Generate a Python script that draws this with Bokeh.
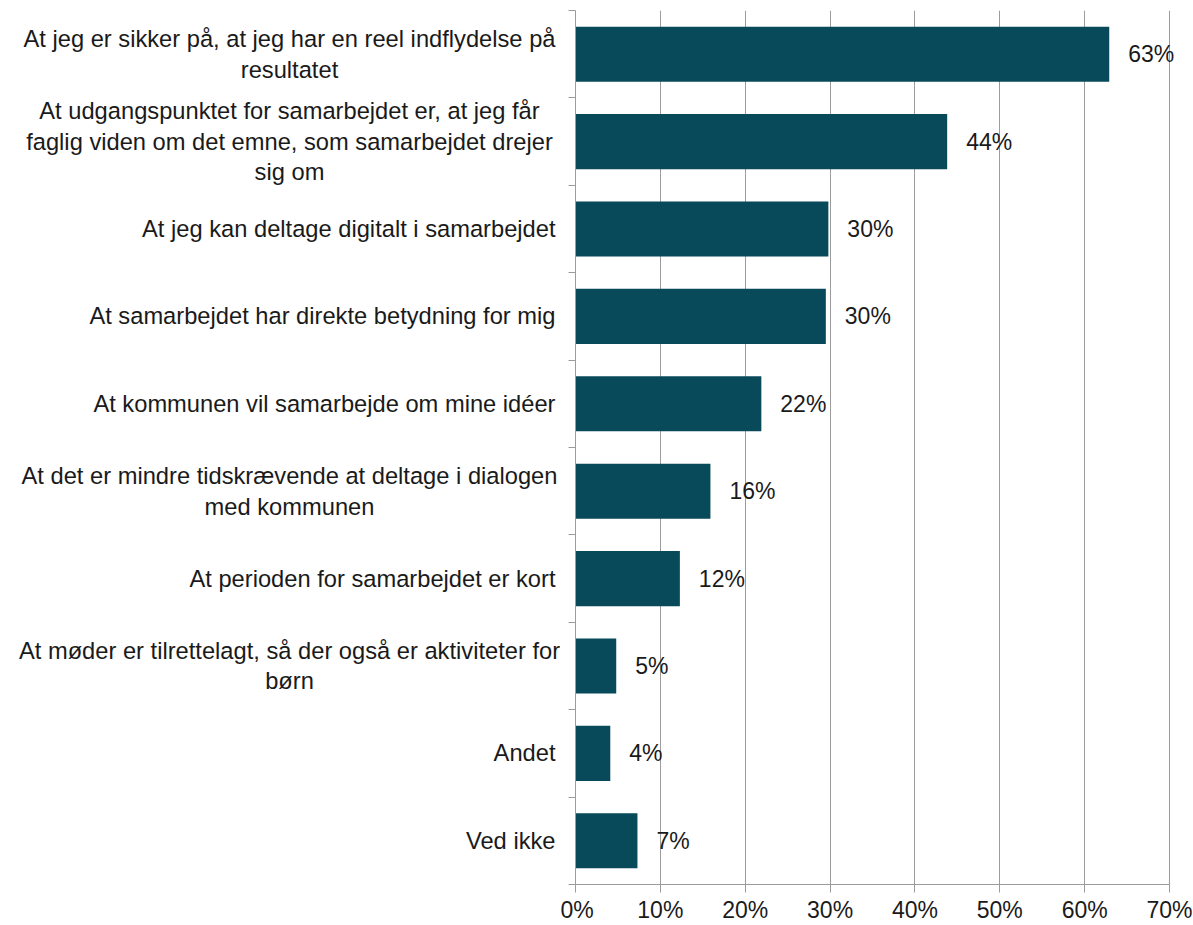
from bokeh.plotting import figure
from bokeh.layouts import row
from bokeh.models import (ColumnDataSource, Range1d, FixedTicker, PrintfTickFormatter,
                          LabelSet)
from bokeh.core.properties import value
from bokeh.embed import file_html
from bokeh.resources import INLINE

categories = [
    "At jeg er sikker på, at jeg har en reel indflydelse på\nresultatet",
    "At udgangspunktet for samarbejdet er, at jeg får\nfaglig viden om det emne, som samarbejdet drejer\nsig om",
    "At jeg kan deltage digitalt i samarbejdet",
    "At samarbejdet har direkte betydning for mig",
    "At kommunen vil samarbejde om mine idéer",
    "At det er mindre tidskrævende at deltage i dialogen\nmed kommunen",
    "At perioden for samarbejdet er kort",
    "At møder er tilrettelagt, så der også er aktiviteter for\nbørn",
    "Andet",
    "Ved ikke",
]
values = [62.9, 43.8, 29.8, 29.5, 21.9, 15.9, 12.3, 4.8, 4.1, 7.3]
value_labels = ["63%", "44%", "30%", "30%", "22%", "16%", "12%", "5%", "4%", "7%"]
x_ticks = [0, 10, 20, 30, 40, 50, 60, 70]

BAR = "#08495A"
GRID = "#9c9c9c"
TXT = "#1a1a1a"
FONT = "Liberation Sans"
FS = "23px"
FS_CAT = "23.7px"

W, H = 1193, 925
LEFT_W = 560
TOP, BOTTOM = 10, 40
PX_PER_UNIT = 594 / 70
EXTRA_PX = 6

n = len(categories)
ypos = [i + 0.5 for i in range(n)]
y_range = Range1d(n, 0)

src = ColumnDataSource(dict(y=ypos, v=values, lab=value_labels))

# ---- left panel: category labels ----
multi = ["\n" in c for c in categories]
lab_src = ColumnDataSource(dict(
    x=[289 if m else 555 for m in multi],
    y=ypos,
    t=categories,
    align=["center" if m else "right" for m in multi],
))
pl = figure(width=LEFT_W, height=H, output_backend="svg", toolbar_location=None,
            x_range=Range1d(0, LEFT_W), y_range=y_range,
            x_axis_location=None, y_axis_location=None,
            min_border_left=0, min_border_right=0,
            min_border_top=TOP, min_border_bottom=BOTTOM)
pl.outline_line_color = None
pl.grid.grid_line_color = None
pl.text(x="x", y="y", text="t", source=lab_src, text_align="align",
        text_baseline="middle", text_font=value(FONT), text_font_size=FS_CAT,
        text_color=TXT, text_line_height=1.18)

# ---- main panel: bars ----
x_end = x_ticks[-1] + EXTRA_PX / PX_PER_UNIT
p = figure(width=W - LEFT_W, height=H, output_backend="svg", toolbar_location=None,
           x_range=Range1d(x_ticks[0], x_end), y_range=y_range,
           min_border_left=575 - LEFT_W, min_border_right=24 - EXTRA_PX,
           min_border_top=TOP, min_border_bottom=BOTTOM)
p.outline_line_color = None

p.hbar(y="y", right="v", left=0, height=0.63, source=src,
       fill_color=BAR, line_color=None)

p.xaxis.ticker = FixedTicker(ticks=x_ticks)
p.xaxis.bounds = (x_ticks[0], x_ticks[-1])
p.xaxis.formatter = PrintfTickFormatter(format="%d%%")
p.xaxis.axis_line_color = GRID
p.xaxis.major_tick_line_color = GRID
p.xaxis.major_tick_out = 8
p.xaxis.major_tick_in = 0
p.xaxis.minor_tick_line_color = None
p.xaxis.major_label_text_font = FONT
p.xaxis.major_label_text_font_size = FS
p.xaxis.major_label_text_color = TXT
p.xaxis.major_label_standoff = 4

p.yaxis.ticker = FixedTicker(ticks=list(range(n + 1)))
p.yaxis.axis_line_color = GRID
p.yaxis.major_tick_line_color = GRID
p.yaxis.major_tick_out = 7
p.yaxis.major_tick_in = 0
p.yaxis.minor_tick_line_color = None
p.yaxis.major_label_overrides = {i: "" for i in range(n + 1)}
p.yaxis.major_label_standoff = 0

p.xgrid.ticker = FixedTicker(ticks=x_ticks)
p.xgrid.grid_line_color = GRID
p.ygrid.grid_line_color = None

p.add_layout(LabelSet(x="v", y="y", text="lab", source=src, x_offset=19,
                      text_baseline="middle", text_align="left",
                      text_font=value(FONT), text_font_size=FS, text_color=TXT))

layout = row(pl, p, spacing=0)
open("out.html", "w").write(file_html(layout, INLINE))
